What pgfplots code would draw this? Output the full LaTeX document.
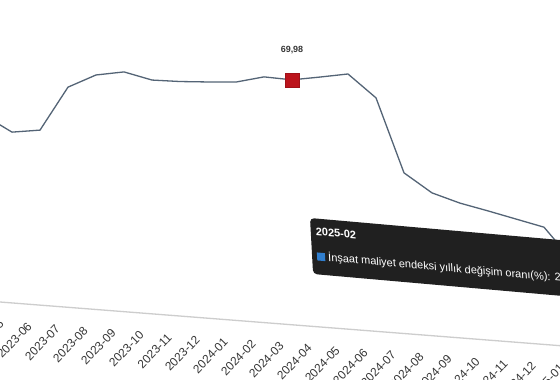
\documentclass[border=0pt]{standalone}
\usepackage{pgfplots}
\pgfplotsset{compat=1.18}
\usepackage{fontspec}
\setmainfont{Liberation Sans}

\definecolor{linecol}{RGB}{84,100,118}
\definecolor{markred}{RGB}{188,20,28}
\definecolor{axisgray}{RGB}{205,205,205}
\definecolor{ticktext}{RGB}{55,55,55}
\definecolor{tipbg}{RGB}{32,32,32}
\definecolor{tipblue}{RGB}{48,126,206}

\begin{document}
\begin{tikzpicture}
\path[use as bounding box] (0,0) rectangle (560bp,380bp);
\begin{scope}
\clip (0,0) rectangle (560bp,380bp);
\fill[white] (0,0) rectangle (560bp,380bp);

% Annual change of the construction cost index, monthly, 2023-05 .. 2025-02
\begin{axis}[
  x={(28bp,-2.184bp)}, y={(0bp,3.5bp)},
  anchor=origin, at={(-16bp,79.25bp)},
  xmin=-1, xmax=22, ymin=0, ymax=80,
  axis x line=bottom, axis y line=none,
  x axis line style={-, draw=axisgray, line width=1.3bp},
  xtick={0,...,21},
  xticklabels={2023-05,2023-06,2023-07,2023-08,2023-09,2023-10,2023-11,2023-12,
    2024-01,2024-02,2024-03,2024-04,2024-05,2024-06,2024-07,2024-08,2024-09,
    2024-10,2024-11,2024-12,2025-01,2025-02},
  major tick length=0pt,
  xticklabel style={xshift=20bp, yshift=-19bp, rotate=46, anchor=east,
    font=\fontsize{12}{14}\selectfont, text=ticktext},
  clip=false,
]
\addplot[linecol, line width=1.3bp, mark=none] coordinates {
  (0,53.0) (1,48.8) (2,50.0) (3,62.9) (4,67.0) (5,68.5) (6,66.8) (7,67.0)
  (8,67.5) (9,68.1) (10,70.2) (11,69.98) (12,71.4) (13,72.9) (14,66.7)
  (15,45.9) (16,40.8) (17,38.5) (18,36.9) (19,35.2) (20,33.5) (21,24.7)
};
\addplot[only marks, mark=square*, mark size=7bp,
  mark options={fill=markred, draw=markred!85!black},
  nodes near coords={69{,}98},
  every node near coord/.append style={anchor=center, yshift=30bp,
    font=\bfseries\fontsize{9}{10}\selectfont, text=ticktext}]
  coordinates {(11,69.98)};
\end{axis}

% tooltip for the last month
\begin{scope}[shift={(310bp,162bp)}, cm={1,-0.088,-0.055,1,(0,0)}, transform shape]
  \fill[tipbg, rounded corners=4bp] (0,0) rectangle (290bp,-56bp);
  \node[anchor=west, text=white, inner sep=0pt,
    font=\bfseries\fontsize{11}{13}\selectfont] at (5bp,-13bp) {2025-02};
  \fill[tipblue] (5bp,-42bp) rectangle (13bp,-34bp);
  \node[anchor=west, text=white, inner sep=0pt,
    font=\fontsize{11}{13}\selectfont] at (16bp,-38bp)
    {İnşaat maliyet endeksi yıllık değişim oranı(\%): 24,7};
\end{scope}
\end{scope}
\end{tikzpicture}
\end{document}
